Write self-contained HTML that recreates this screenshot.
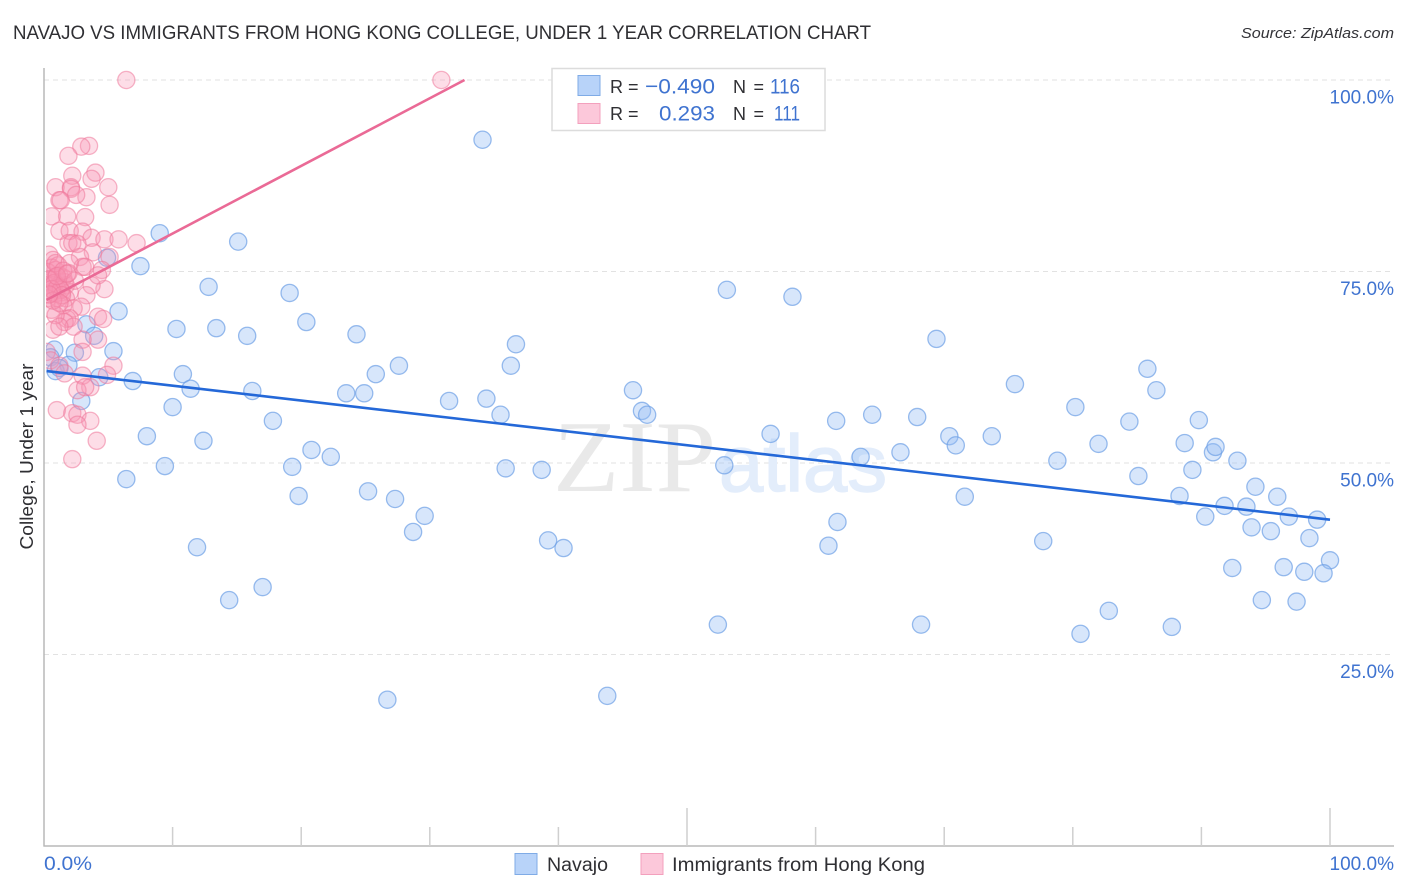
<!DOCTYPE html>
<html lang="en">
<head>
<meta charset="utf-8">
<title>Navajo vs Immigrants from Hong Kong College, Under 1 Year Correlation Chart</title>
<style>
html,body{margin:0;padding:0;background:#fff;width:1406px;height:892px;overflow:hidden}
svg{display:block;font-family:"Liberation Sans",sans-serif}
</style>
</head>
<body>
<svg id="chart" xmlns="http://www.w3.org/2000/svg" width="1406" height="892" viewBox="0 0 1406 892">
  <defs>
    <clipPath id="plot-clip"><rect x="46" y="60" width="1360" height="790"/></clipPath>
  </defs>
  <rect x="0" y="0" width="1406" height="892" fill="#ffffff"/>
  <text x="13" y="39" font-size="19" fill="#2f2f33" textLength="858" lengthAdjust="spacingAndGlyphs">NAVAJO VS IMMIGRANTS FROM HONG KONG COLLEGE, UNDER 1 YEAR CORRELATION CHART</text>
  <text x="1241" y="38" font-size="15" font-style="italic" fill="#333338" textLength="153" lengthAdjust="spacingAndGlyphs">Source: ZipAtlas.com</text>
  <g id="grid"></g>
  <text x="553" y="491" font-size="102" fill="#e9e9e9" font-family="'Liberation Serif',serif" textLength="163" lengthAdjust="spacingAndGlyphs">ZIP</text>
  <text x="719" y="491" font-size="80" fill="#e3edfb" stroke="#e3edfb" stroke-width="1.5" font-family="'Liberation Sans',sans-serif" textLength="168" lengthAdjust="spacingAndGlyphs">atlas</text>
  <g id="axes"></g>
  <g id="points-navajo" clip-path="url(#plot-clip)"></g>
  <g id="points-hongkong" clip-path="url(#plot-clip)"></g>
  <g id="trends"></g>
  <g id="ylabels"></g>
  <text transform="translate(33,456.5) rotate(-90)" text-anchor="middle" font-size="18" fill="#2f2f33" textLength="186" lengthAdjust="spacingAndGlyphs">College, Under 1 year</text>
  <text x="44" y="870" font-size="19" fill="#3f73d0" textLength="48" lengthAdjust="spacingAndGlyphs">0.0%</text>
  <text x="1394" y="870" font-size="19" fill="#3f73d0" text-anchor="end">100.0%</text>

  <g>
    <rect x="552" y="68.5" width="273" height="62" fill="#ffffff" stroke="#dcdcdc" stroke-width="1.5"/>
    <rect x="578" y="75.5" width="22" height="20" fill="#b8d3f9" stroke="#7fabe6" stroke-width="1"/>
    <rect x="578" y="103.5" width="22" height="20" fill="#fcc8da" stroke="#f3a0bd" stroke-width="1"/>
    <text x="610" y="93" font-size="18" fill="#2f2f33">R =</text>
    <text x="645" y="93.5" font-size="21.5" fill="#3f73d0" textLength="70" lengthAdjust="spacingAndGlyphs">−0.490</text>
    <text x="733" y="93" font-size="18" fill="#2f2f33" textLength="31" lengthAdjust="spacing">N =</text>
    <text x="770" y="93.5" font-size="21.5" fill="#3f73d0" textLength="30" lengthAdjust="spacingAndGlyphs">116</text>
    <text x="610" y="120" font-size="18" fill="#2f2f33">R =</text>
    <text x="659" y="120.5" font-size="21.5" fill="#3f73d0" textLength="56" lengthAdjust="spacingAndGlyphs">0.293</text>
    <text x="733" y="120" font-size="18" fill="#2f2f33" textLength="31" lengthAdjust="spacing">N =</text>
    <text x="774" y="120.5" font-size="21.5" fill="#3f73d0" textLength="26" lengthAdjust="spacingAndGlyphs">111</text>
  </g>

  <g>
    <rect x="515" y="853.5" width="22" height="21" fill="#b8d3f9" stroke="#7fabe6" stroke-width="1"/>
    <text x="547" y="871" font-size="19" fill="#2f2f33" textLength="61" lengthAdjust="spacingAndGlyphs">Navajo</text>
    <rect x="641" y="853.5" width="22" height="21" fill="#fcc8da" stroke="#f3a0bd" stroke-width="1"/>
    <text x="672" y="871" font-size="19" fill="#2f2f33" textLength="253" lengthAdjust="spacingAndGlyphs">Immigrants from Hong Kong</text>
  </g>
</svg>
<script>
var navajoX = [34.1,9.0,15.1,7.5,4.9,12.8,19.1,20.4,5.8,3.3,3.9,10.3,13.4,15.8,24.3,36.7,53.1,58.2,69.4,5.4,2.4,0.8,0.5,1.9,0.9,1.2,6.9,4.3,10.8,11.4,16.2,27.6,25.8,23.5,24.9,36.3,31.5,34.4,35.5,45.8,46.5,46.9,10.0,2.9,17.8,8.0,12.4,20.8,19.3,22.3,9.4,6.4,19.8,25.2,27.3,29.6,28.7,35.9,38.7,39.2,40.4,11.9,14.4,17.0,26.7,43.8,52.4,68.2,52.9,56.5,61.6,64.4,67.9,70.4,70.9,73.7,63.5,66.6,75.5,80.2,78.8,82.0,84.4,85.8,86.5,89.8,88.7,90.9,91.1,92.8,89.3,85.1,71.6,61.7,61.0,77.7,88.3,94.2,95.9,93.5,91.8,90.3,96.8,99.0,93.9,95.4,98.4,100,92.4,96.4,98.0,99.5,94.7,97.4,82.8,80.6,87.7];
var navajoY = [92.2,80.0,78.9,75.7,76.8,73.0,72.2,68.4,69.8,68.1,66.6,67.5,67.6,66.6,66.8,65.5,72.6,71.7,66.2,64.6,64.4,64.8,63.8,62.8,62.0,62.4,60.7,61.2,61.6,59.7,59.4,62.7,61.6,59.1,59.1,62.7,58.1,58.4,56.3,59.5,56.8,56.3,57.3,58.1,55.5,53.5,52.9,51.7,49.5,50.8,49.6,47.9,45.7,46.3,45.3,43.1,41.0,49.3,49.1,39.9,38.9,39.0,32.1,33.8,19.1,19.6,28.9,28.9,49.7,53.8,55.5,56.3,56.0,53.5,52.3,53.5,50.8,51.4,60.3,57.3,50.3,52.5,55.4,62.3,59.5,55.6,52.6,51.4,52.1,50.3,49.1,48.3,45.6,42.3,39.2,39.8,45.7,46.9,45.6,44.3,44.4,43.0,43.0,42.6,41.6,41.1,40.2,37.3,36.3,36.4,35.8,35.6,32.1,31.9,30.7,27.7,28.6];
var hongkongX = [6.4,30.9,3.5,2.9,1.9,4.0,3.7,2.2,0.9,5.0,2.1,2.1,3.3,2.5,1.2,1.3,5.1,0.6,1.8,3.2,1.2,2.0,3.0,3.7,4.7,5.8,7.2,1.9,2.2,2.6,0.4,3.8,5.1,0.7,2.8,3.0,3.2,4.5,2.0,4.7,3.7,4.2,0.6,0.9,0.3,1.2,0.5,0.9,1.5,0.2,0.7,1.1,1.7,0.5,0.9,1.4,2.0,0.3,1.1,1.7,3.3,2.9,2.3,1.5,0.6,4.2,4.6,1.8,2.0,1.6,0.9,2.3,0.7,1.2,4.2,3.0,3.0,0.2,0.5,5.4,4.9,1.2,1.6,3.0,3.6,2.6,3.2,1.0,2.2,2.6,3.6,2.6,4.1,2.2,0.4,0.8,1.0,1.3,1.6,0.6,1.1,1.4,0.7,1.9,1.2,0.9,1.5,0.4,2.4,1.0,1.8];
var hongkongY = [100,100,91.4,91.3,90.1,87.9,87.1,87.5,86.0,86.0,86.0,85.8,84.7,85.0,84.3,84.3,83.7,82.2,82.2,82.1,80.3,80.3,80.2,79.4,79.2,79.2,78.7,78.7,78.7,78.6,77.2,77.5,76.9,76.5,76.9,75.6,75.6,75.2,76.1,72.7,73.2,74.5,75.5,75.2,74.9,74.5,73.9,74.2,74.2,73.2,73.2,73.1,73.2,72.3,72.1,72.3,72.3,71.5,71.5,71.5,71.9,70.4,70.2,70.6,70.0,69.1,68.8,68.8,68.9,68.4,69.3,67.8,67.4,67.8,66.1,66.1,64.5,64.5,63.4,62.7,61.5,62.7,61.7,61.4,59.9,59.5,59.9,56.9,56.5,56.3,55.5,55.0,52.9,50.5,74.0,73.5,72.8,72.6,73.6,72.7,75.8,71.9,71.2,74.8,70.9,76.1,75.1,72.0,73.8,74.4,74.7];
var navajoTrendX = [0.2,100];
var navajoTrendY = [62,42.6];
var hongkongTrendX = [0.2,32.7];
var hongkongTrendY = [71.3,100];
var xTickValues = [10,20,30,40,50,60,70,80,90,100];
var yTickValues = [100,75,50,25];
var yTickLabels = ["100.0%","75.0%","50.0%","25.0%"];

var NS = "http://www.w3.org/2000/svg";
function xScale(v){ return 44 + v * 12.86; }
function yScale(v){ return 846 - v * 7.66; }
function make(tag, parentId, attrs){
  var el = document.createElementNS(NS, tag);
  for (var k in attrs) { el.setAttribute(k, attrs[k]); }
  document.getElementById(parentId).appendChild(el);
  return el;
}

yTickValues.forEach(function(v, i){
  var g = make("line", "grid", {x1:44, x2:1394, y1:yScale(v), y2:yScale(v), stroke:"#e2e2e2", "stroke-width":1, "stroke-dasharray":"5 4"});
  
  
  var t = make("text", "ylabels", {x:1394, y:yScale(v)+23.5, "font-size":19, fill:"#3f73d0", "text-anchor":"end"});
  t.textContent = yTickLabels[i];
  
  
});

var yAxis = make("line", "axes", {x1:44, x2:44, y1:68, y2:846.5, stroke:"#b8b8b8", "stroke-width":1.5});


var xAxis = make("line", "axes", {x1:43.5, x2:1394, y1:846, y2:846, stroke:"#b8b8b8", "stroke-width":1.5});


xTickValues.forEach(function(v){
  var tall = v === 50 || v === 100;
  var tick = make("line", "axes", {x1:xScale(v), x2:xScale(v), y1:tall ? 808 : 827, y2:846, stroke:"#cfcfcf", "stroke-width":1.5});
  
  
});

navajoX.forEach(function(v, i){
  var c = make("circle", "points-navajo", {cx:xScale(v), cy:yScale(navajoY[i]), r:8.6, fill:"rgba(150,190,245,0.38)", stroke:"rgba(110,160,230,0.7)", "stroke-width":1.3});
  
  
});
hongkongX.forEach(function(v, i){
  var c = make("circle", "points-hongkong", {cx:xScale(v), cy:yScale(hongkongY[i]), r:8.6, fill:"rgba(250,150,180,0.32)", stroke:"rgba(238,120,155,0.55)", "stroke-width":1.3});
  
  
});

var blueTrend = make("line", "trends", {x1:xScale(navajoTrendX[0]), y1:yScale(navajoTrendY[0]), x2:xScale(navajoTrendX[1]), y2:yScale(navajoTrendY[1]), stroke:"#2468d8", "stroke-width":2.6});


var pinkTrend = make("line", "trends", {x1:xScale(hongkongTrendX[0]), y1:yScale(hongkongTrendY[0]), x2:xScale(hongkongTrendX[1]), y2:yScale(hongkongTrendY[1]), stroke:"#ea6a96", "stroke-width":2.6});


</script>
</body>
</html>
